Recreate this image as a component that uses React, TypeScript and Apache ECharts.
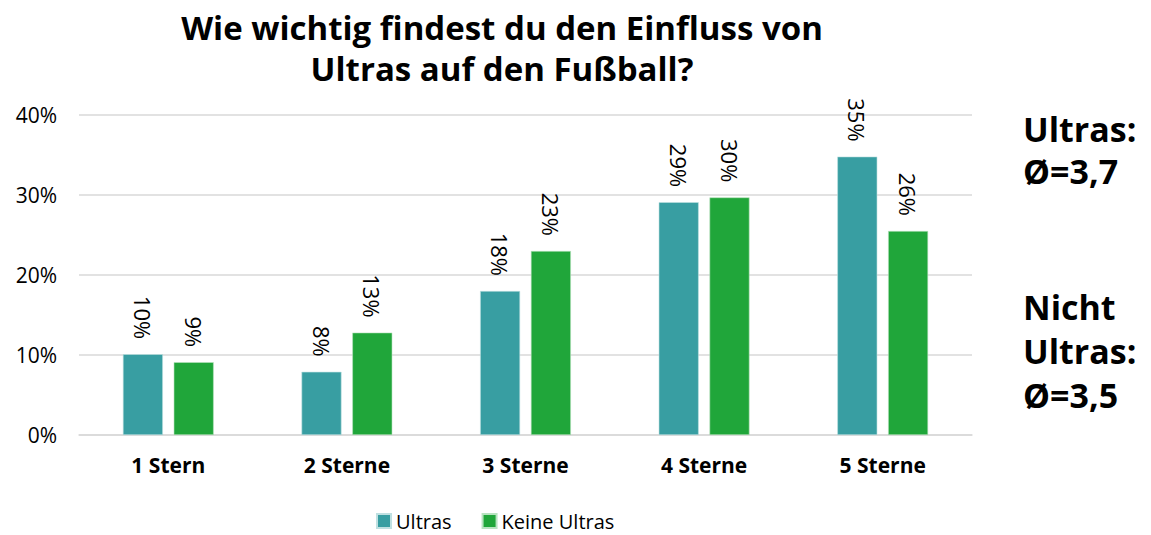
import React, { useEffect, useRef } from "react";
import * as echarts from "echarts";

const categories = ["1 Stern", "2 Sterne", "3 Sterne", "4 Sterne", "5 Sterne"];
const ultras = [10.1, 7.9, 18.0, 29.1, 34.8];
const keineUltras = [9.1, 12.8, 23.0, 29.7, 25.5];
const seriesNames = ["Ultras", "Keine Ultras"];
const titleText = "Wie wichtig findest du den Einfluss von\nUltras auf den Fußball?";
const noteUltras = "Ultras:\nØ=3,7";
const noteNicht = "Nicht\nUltras:\nØ=3,5";

const FONT = "'Open Sans', 'DejaVu Sans', sans-serif";

export default function App() {
  const ref = useRef<HTMLDivElement>(null);
  useEffect(() => {
    if (!ref.current) return;
    const chart = echarts.init(ref.current, undefined, { renderer: "svg" });
    const label = {
      show: true,
      position: "top",
      rotate: -90,
      align: "right",
      verticalAlign: "middle",
      distance: 15,
      fontSize: 22,
      color: "#000",
      fontFamily: FONT,
      formatter: (p: any) => `${Math.round(p.value)}%`,
    };
    chart.setOption({
      animation: false,
      textStyle: { fontFamily: FONT },
      title: {
        text: titleText,
        left: 497,
        textAlign: "center",
        top: 2,
        textStyle: { fontSize: 33, fontWeight: "bold", color: "#000", lineHeight: 41, fontFamily: FONT },
      },
      grid: { left: 79, right: 179, top: 115, bottom: 100, containLabel: false },
      legend: {
        data: seriesNames,
        left: 371,
        top: 506,
        itemWidth: 14,
        itemHeight: 14,
        itemGap: 30,
        icon: "rect",
        textStyle: { fontSize: 20, color: "#000", fontFamily: FONT, lineHeight: 20 },
      },
      xAxis: {
        type: "category",
        data: categories,
        axisLine: { show: true, lineStyle: { color: "#d9d9d9", width: 1.5 } },
        axisTick: { show: false },
        axisLabel: { fontSize: 21, fontWeight: "bold", color: "#000", margin: 19, fontFamily: FONT },
      },
      yAxis: {
        type: "value",
        min: 0,
        max: 40,
        interval: 10,
        axisLabel: { formatter: "{value}%", fontSize: 21, color: "#000", margin: 22, fontFamily: FONT },
        splitLine: { lineStyle: { color: "#d9d9d9", width: 1.5 } },
        axisLine: { show: false },
        axisTick: { show: false },
      },
      graphic: [
        {
          type: "text",
          left: 1023,
          top: 108,
          style: { text: noteUltras, fontSize: 34, fontWeight: "bold", fill: "#000", lineHeight: 42, fontFamily: FONT },
        },
        {
          type: "text",
          left: 1023,
          top: 285,
          style: { text: noteNicht, fontSize: 34, fontWeight: "bold", fill: "#000", lineHeight: 44, fontFamily: FONT },
        },
      ],
      series: [
        {
          name: seriesNames[0],
          type: "bar",
          data: ultras,
          barWidth: 40,
          barGap: "27%",
          itemStyle: { color: "#389ea2", borderColor: "#bfe0e1", borderWidth: 0.6 },
          label,
        },
        {
          name: seriesNames[1],
          type: "bar",
          data: keineUltras,
          barWidth: 40,
          itemStyle: { color: "#20a63a", borderColor: "#b8e3c0", borderWidth: 0.6 },
          label,
        },
      ],
    });
    return () => chart.dispose();
  }, []);
  return <div ref={ref} style={{ width: 1151, height: 535, position: "absolute", left: 0, top: 0 }} />;
}
